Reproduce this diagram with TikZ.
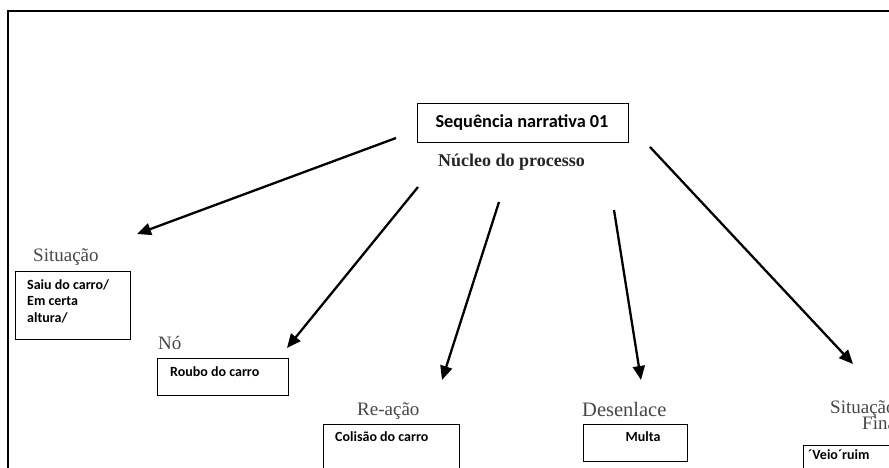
\documentclass[tikz,border=0pt]{standalone}
\usepackage{fontspec}
\setmainfont{Liberation Serif}
\newfontfamily\boxfont{Carlito}
\usetikzlibrary{arrows.meta}
\begin{document}
\begin{tikzpicture}[x=1pt,y=-1pt,
  frame/.style={line width=2.6pt,black},
  bx/.style={draw=black,line width=0.9pt,fill=white},
  arr/.style={line width=2.3pt,-{Triangle[length=14pt,width=12pt]}},
  lbl/.style={anchor=base west,inner sep=0pt,text=black!72,font=\fontsize{19}{20}\selectfont},
  btxt/.style={anchor=base west,inner sep=0pt,font=\boxfont\bfseries\fontsize{14}{16.5}\selectfont},
]
\useasboundingbox (0,0) rectangle (889,467);
\clip (0,0) rectangle (889,467);
\fill[white] (0,0) rectangle (889,467);
% outer frame (only top and left edges visible)
\draw[frame] (8,470) -- (8,11) -- (892,11);

% top box
\draw[bx] (417,103) rectangle (628,142);
\node[anchor=base,inner sep=0pt,font=\boxfont\bfseries\fontsize{18.3}{20}\selectfont] (title) at (522,127) {Sequência narrativa 01};
\node[anchor=base west,inner sep=0pt,font=\bfseries\fontsize{18}{20}\selectfont,text=black!85] (nucleo) at (438,166) {Núcleo do processo};

% Situação inicial
\node[lbl] (sit) at (33,261) {Situação};
\draw[bx] (15,271) rectangle (130,339);
\node[btxt,align=left,anchor=north west] (b1) at (27,279) {Saiu do carro/\\Em certa\\altura/};

% Nó
\node[lbl] (no) at (158,349) {Nó};
\draw[bx] (157,358) rectangle (288,395);
\node[btxt] (b2) at (170,376) {Roubo do carro};

% Re-ação
\node[lbl] (reacao) at (357,415) {Re-ação};
\draw[bx] (323,424) rectangle (459,480);
\node[btxt] (b3) at (335,441) {Colisão do carro};

% Desenlace
\node[lbl,font=\fontsize{20.5}{21}\selectfont] (des) at (582,416) {Desenlace};
\draw[bx] (583,424) rectangle (687,461);
\node[btxt,anchor=base] (b4) at (643,441) {Multa};

% Situação final
\node[lbl] (sitf) at (830,413) {Situação};
\node[lbl] (fin) at (862,429) {Final};
\draw[bx] (803,445) rectangle (900,480);
\node[btxt] (b5) at (808,459) {´Veio´ruim};

% arrows
\coordinate (s1) at (396,138); \coordinate (t1) at (137,234);
\coordinate (s2) at (418,187); \coordinate (t2) at (287,348);
\coordinate (s3) at (499,202); \coordinate (t3) at (442,380);
\coordinate (s4) at (614,210); \coordinate (t4) at (641,380);
\coordinate (s5) at (650,147); \coordinate (t5) at (853,364);
\draw[arr] (s1) -- (t1);
\draw[arr] (s2) -- (t2);
\draw[arr] (s3) -- (t3);
\draw[arr] (s4) -- (t4);
\draw[arr] (s5) -- (t5);
\end{tikzpicture}
\end{document}
